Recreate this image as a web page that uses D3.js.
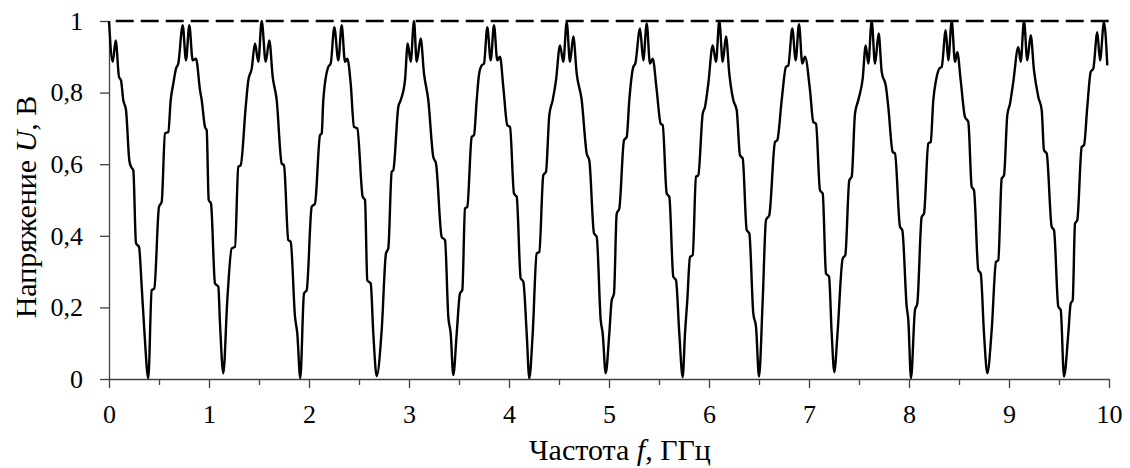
<!DOCTYPE html>
<html>
<head>
<meta charset="utf-8">
<script src="https://cdn.jsdelivr.net/npm/d3@7"></script>
<style>
  body { margin: 0; background: #fff; }
  svg text { font-family: "Liberation Serif", "Times New Roman", "DejaVu Serif", serif; fill: #000; }
</style>
</head>
<body>
<div id="chart"></div>
<script>
// frequency (GHz), voltage (V)
const curve = [
  [0.000, 1.000], [0.037, 0.886], [0.067, 0.946], [0.100, 0.844], [0.120, 0.834],
  [0.143, 0.779], [0.170, 0.751], [0.203, 0.611], [0.220, 0.593], [0.243, 0.583],
  [0.270, 0.379], [0.300, 0.369], [0.327, 0.258], [0.353, 0.137], [0.393, 0.002],
  [0.427, 0.248], [0.453, 0.253], [0.500, 0.481], [0.527, 0.495], [0.560, 0.686],
  [0.593, 0.690], [0.617, 0.779], [0.643, 0.825], [0.670, 0.867], [0.693, 0.881],
  [0.737, 0.988], [0.770, 0.890], [0.803, 0.988], [0.837, 0.890], [0.870, 0.895],
  [0.910, 0.807], [0.927, 0.779], [0.960, 0.704], [0.977, 0.695], [0.997, 0.500],
  [1.020, 0.490], [1.060, 0.267], [1.093, 0.258], [1.110, 0.155], [1.143, 0.016],
  [1.183, 0.220], [1.227, 0.365], [1.260, 0.369], [1.293, 0.593], [1.317, 0.597],
  [1.367, 0.760], [1.393, 0.834], [1.427, 0.867], [1.460, 0.937], [1.493, 0.886],
  [1.527, 1.000], [1.567, 0.886], [1.603, 0.946], [1.637, 0.844], [1.677, 0.779],
  [1.727, 0.602], [1.750, 0.597], [1.793, 0.388], [1.817, 0.383], [1.860, 0.174],
  [1.883, 0.127], [1.913, 0.002], [1.950, 0.239], [1.977, 0.248], [2.027, 0.481],
  [2.060, 0.490], [2.110, 0.681], [2.127, 0.686], [2.143, 0.779], [2.193, 0.872],
  [2.217, 0.881], [2.253, 0.983], [2.293, 0.890], [2.327, 0.988], [2.360, 0.886],
  [2.383, 0.895], [2.417, 0.825], [2.450, 0.704], [2.483, 0.700], [2.537, 0.509],
  [2.560, 0.500], [2.583, 0.276], [2.617, 0.267], [2.643, 0.127], [2.677, 0.008],
  [2.727, 0.137], [2.770, 0.351], [2.793, 0.365], [2.827, 0.579], [2.843, 0.583],
  [2.893, 0.760], [2.917, 0.779], [2.960, 0.834], [2.987, 0.937], [3.017, 0.886],
  [3.050, 1.000], [3.077, 0.886], [3.117, 0.951], [3.150, 0.853], [3.193, 0.779],
  [3.243, 0.620], [3.270, 0.602], [3.327, 0.397], [3.360, 0.388], [3.393, 0.174],
  [3.417, 0.127], [3.443, 0.011], [3.477, 0.127], [3.510, 0.239], [3.533, 0.248],
  [3.560, 0.476], [3.583, 0.481], [3.627, 0.676], [3.650, 0.681], [3.677, 0.779],
  [3.700, 0.850], [3.727, 0.876], [3.750, 0.881], [3.783, 0.983], [3.817, 0.890],
  [3.850, 0.988], [3.883, 0.890], [3.910, 0.900], [3.943, 0.816], [3.983, 0.709],
  [4.010, 0.704], [4.050, 0.518], [4.077, 0.509], [4.117, 0.281], [4.143, 0.272],
  [4.177, 0.127], [4.203, 0.002], [4.237, 0.127], [4.277, 0.351], [4.303, 0.355],
  [4.343, 0.569], [4.370, 0.579], [4.403, 0.737], [4.437, 0.779], [4.470, 0.834],
  [4.510, 0.932], [4.543, 0.886], [4.577, 0.997], [4.610, 0.886], [4.643, 0.957],
  [4.677, 0.853], [4.727, 0.779], [4.777, 0.630], [4.803, 0.611], [4.850, 0.407],
  [4.877, 0.397], [4.917, 0.165], [4.937, 0.127], [4.967, 0.016], [5.003, 0.127],
  [5.027, 0.220], [5.050, 0.239], [5.077, 0.462], [5.103, 0.476], [5.150, 0.667],
  [5.177, 0.676], [5.203, 0.779], [5.243, 0.872], [5.263, 0.881], [5.310, 0.979],
  [5.343, 0.890], [5.377, 0.993], [5.410, 0.881], [5.437, 0.895], [5.477, 0.807],
  [5.517, 0.713], [5.537, 0.709], [5.577, 0.518], [5.603, 0.509], [5.643, 0.286],
  [5.670, 0.276], [5.703, 0.127], [5.737, 0.005], [5.760, 0.127], [5.783, 0.220],
  [5.810, 0.341], [5.837, 0.346], [5.870, 0.565], [5.893, 0.569], [5.937, 0.741],
  [5.960, 0.760], [5.993, 0.825], [6.037, 0.932], [6.070, 0.886], [6.103, 1.000],
  [6.137, 0.886], [6.170, 0.957], [6.203, 0.853], [6.243, 0.779], [6.277, 0.751],
  [6.310, 0.625], [6.337, 0.616], [6.377, 0.416], [6.403, 0.407], [6.443, 0.183],
  [6.470, 0.146], [6.500, 0.007], [6.537, 0.220], [6.570, 0.444], [6.603, 0.458],
  [6.660, 0.662], [6.683, 0.667], [6.727, 0.779], [6.770, 0.872], [6.793, 0.876],
  [6.833, 0.979], [6.867, 0.890], [6.900, 0.991], [6.933, 0.881], [6.960, 0.900],
  [7.010, 0.807], [7.043, 0.718], [7.070, 0.713], [7.110, 0.527], [7.137, 0.518],
  [7.170, 0.295], [7.200, 0.286], [7.227, 0.127], [7.253, 0.019], [7.285, 0.127],
  [7.337, 0.337], [7.363, 0.346], [7.403, 0.555], [7.427, 0.565], [7.460, 0.741],
  [7.493, 0.779], [7.537, 0.839], [7.567, 0.932], [7.593, 0.881], [7.627, 1.000],
  [7.660, 0.881], [7.697, 0.965], [7.727, 0.858], [7.770, 0.816], [7.793, 0.760],
  [7.837, 0.634], [7.860, 0.630], [7.910, 0.425], [7.933, 0.416], [7.977, 0.202],
  [7.993, 0.165], [8.020, 0.002], [8.060, 0.193], [8.083, 0.211], [8.127, 0.453],
  [8.150, 0.462], [8.193, 0.658], [8.217, 0.662], [8.243, 0.779], [8.270, 0.834],
  [8.303, 0.867], [8.327, 0.872], [8.367, 0.974], [8.393, 0.890], [8.427, 1.000],
  [8.460, 0.886], [8.483, 0.913], [8.517, 0.834], [8.560, 0.732], [8.593, 0.718],
  [8.627, 0.537], [8.650, 0.527], [8.693, 0.304], [8.717, 0.295], [8.750, 0.127],
  [8.783, 0.016], [8.827, 0.137], [8.870, 0.327], [8.893, 0.332], [8.927, 0.560],
  [8.950, 0.569], [8.983, 0.737], [9.010, 0.769], [9.043, 0.830], [9.093, 0.927],
  [9.117, 0.886], [9.150, 1.000], [9.183, 0.890], [9.217, 0.960], [9.250, 0.862],
  [9.293, 0.788], [9.327, 0.751], [9.350, 0.639], [9.377, 0.630], [9.427, 0.425],
  [9.450, 0.416], [9.493, 0.202], [9.517, 0.193], [9.550, 0.007], [9.593, 0.127],
  [9.617, 0.211], [9.637, 0.220], [9.660, 0.434], [9.683, 0.444], [9.727, 0.648],
  [9.750, 0.653], [9.783, 0.760], [9.817, 0.858], [9.843, 0.867], [9.883, 0.969],
  [9.910, 0.890], [9.950, 0.997], [9.983, 0.876]
];

const xMajorTicks = [0, 1, 2, 3, 4, 5, 6, 7, 8, 9, 10];
const xMinorTicks = [0.5, 1.5, 2.5, 3.5, 4.5, 5.5, 6.5, 7.5, 8.5, 9.5];
const yTicks = [0, 0.2, 0.4, 0.6, 0.8, 1];
const yTickLabels = ["0", "0,2", "0,4", "0,6", "0,8", "1"];
const refLevel = 1;

const serif = "'Liberation Serif', 'Times New Roman', 'DejaVu Serif', serif";

const width = 1130;
const height = 468;
const margin = { top: 21, right: 21, bottom: 89, left: 109 };

const x = d3.scaleLinear()
  .domain([0, 10])
  .range([margin.left, width - margin.right]);

const y = d3.scaleLinear()
  .domain([0, 1])
  .range([height - margin.bottom, margin.top]);

const svg = d3.select("#chart")
  .append("svg")
  .attr("width", width)
  .attr("height", height)
  .attr("font-family", serif);

// reference level (dashed)
svg.append("line")
  .attr("x1", x(0))
  .attr("x2", x(10))
  .attr("y1", y(refLevel))
  .attr("y2", y(refLevel))
  .attr("stroke", "#000")
  .attr("stroke-width", 2.5)
  .attr("stroke-dasharray", "18,7")
  .attr("stroke-dashoffset", 18.3);

// minor x ticks
svg.append("g")
  .attr("transform", `translate(0, ${y(0)})`)
  .call(d3.axisBottom(x).tickValues(xMinorTicks).tickSize(6).tickFormat(""))
  .call(g => g.select(".domain").remove())
  .call(g => g.selectAll("line").attr("stroke", "#404040").attr("stroke-width", 1.3));

const xAxis = svg.append("g")
  .attr("transform", `translate(0, ${y(0)})`)
  .call(d3.axisBottom(x).tickValues(xMajorTicks).tickSize(9).tickSizeOuter(0).tickPadding(17)
    .tickFormat(d3.format("d")));

const yAxis = svg.append("g")
  .attr("transform", `translate(${x(0)}, 0)`)
  .call(d3.axisLeft(y).tickValues(yTicks).tickSize(9).tickSizeOuter(0).tickPadding(17)
    .tickFormat((d, i) => yTickLabels[i]));

[xAxis, yAxis].forEach(g => {
  g.attr("font-family", serif).attr("font-size", 26);
  g.select(".domain").attr("stroke", "#404040").attr("stroke-width", 1.3);
  g.selectAll(".tick line").attr("stroke", "#404040").attr("stroke-width", 1.3);
  g.selectAll(".tick text")
    .attr("fill", "#000")
    .style("font-family", serif)
    .style("font-size", "26px");
});
xAxis.selectAll(".tick text").attr("dy", "0.71em");

// the curve
const line = d3.line()
  .x(d => x(d[0]))
  .y(d => y(d[1]))
  .curve(d3.curveMonotoneX);

svg.append("path")
  .datum(curve)
  .attr("d", line)
  .attr("fill", "none")
  .attr("stroke", "#000")
  .attr("stroke-width", 2.4)
  .attr("stroke-linejoin", "round");

// axis titles
const xTitle = svg.append("text")
  .attr("x", 620)
  .attr("y", 460)
  .attr("text-anchor", "middle")
  .style("font-family", serif)
  .style("font-size", "30px");
xTitle.append("tspan").text("Частота ");
xTitle.append("tspan").style("font-style", "italic").text("f");
xTitle.append("tspan").text(", ГГц");

const yTitle = svg.append("text")
  .attr("transform", "translate(36, 207) rotate(-90)")
  .attr("text-anchor", "middle")
  .style("font-family", serif)
  .style("font-size", "30px");
yTitle.append("tspan").text("Напряжение ");
yTitle.append("tspan").style("font-style", "italic").text("U");
yTitle.append("tspan").text(", В");
</script>
</body>
</html>
